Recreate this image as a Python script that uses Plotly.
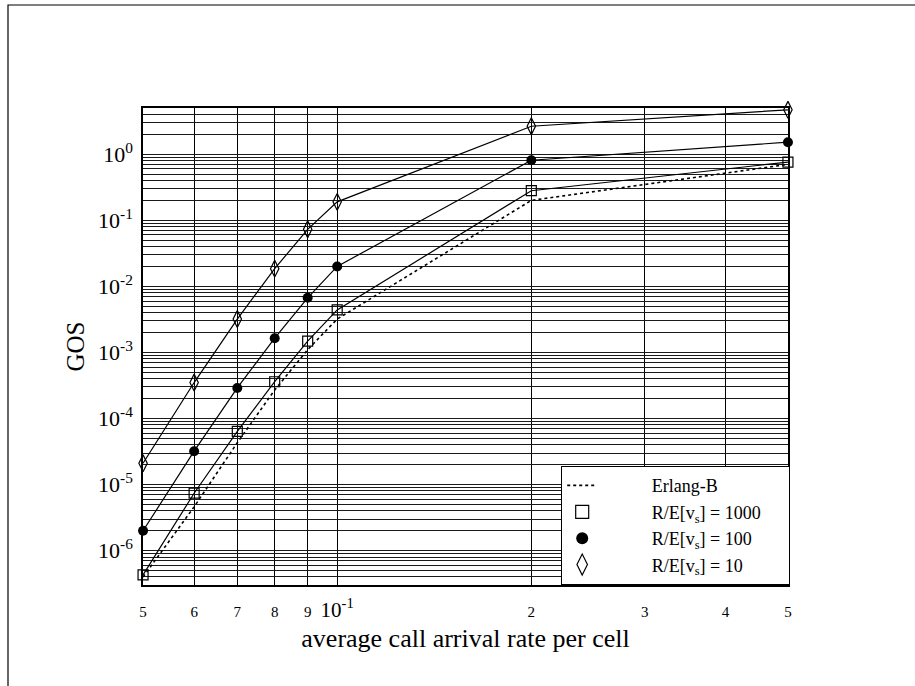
import math
import plotly.graph_objects as go

# ---- data ----
rate = [0.05, 0.06, 0.07, 0.08, 0.09, 0.1, 0.2, 0.5]
gos_erlang = [4.0e-7, 4.6e-6, 4.3e-5, 2.7e-4, 1.1e-3, 3.2e-3, 0.20, 0.70]
gos_r1000 = [4.3e-7, 7.4e-6, 6.4e-5, 3.6e-4, 1.48e-3, 4.4e-3, 0.28, 0.76]
gos_r100 = [2.0e-6, 3.2e-5, 2.9e-4, 1.64e-3, 6.7e-3, 0.020, 0.81, 1.52]
gos_r10 = [2.1e-5, 3.5e-4, 3.2e-3, 1.85e-2, 0.073, 0.19, 2.65, 4.7]

x_tickvals = [0.05, 0.06, 0.07, 0.08, 0.09, 0.1, 0.2, 0.3, 0.4, 0.5]
x_ticklabels = ["5", "6", "7", "8", "9", "10<sup>-1</sup>", "2", "3", "4", "5"]
y_exponents = [-7, -6, -5, -4, -3, -2, -1, 0]

FONT = "Liberation Serif, Times New Roman, serif"
SP = "\u00a0" * 11
TR = "\u00a0" * 5

x_ticktext = [t if t.startswith("10") else '<span style="font-size:15px">%s</span>' % t
              for t in x_ticklabels]

y_tickvals, y_ticktext = [], []
for e in y_exponents:
    for k in range(1, 10):
        y_tickvals.append(k * 10.0 ** e)
        y_ticktext.append("10<sup>%d</sup>" % e if k == 1 else "")

fig = go.Figure()
line = dict(color="black", width=1.2)

fig.add_trace(go.Scatter(x=rate, y=gos_erlang, mode="lines", name=SP + "Erlang-B",
                         line=dict(color="black", width=1.6, dash="dot"), cliponaxis=False))
fig.add_trace(go.Scatter(x=rate, y=gos_r1000, mode="lines+markers", showlegend=False, line=line,
                         cliponaxis=False,
                         marker=dict(symbol="square-open", size=10, color="black", line=dict(width=1.2))))
fig.add_trace(go.Scatter(x=rate, y=gos_r100, mode="lines+markers", showlegend=False, line=line,
                         cliponaxis=False,
                         marker=dict(symbol="circle", size=10, color="black")))
fig.add_trace(go.Scatter(x=rate, y=gos_r10, mode="lines+markers", showlegend=False, line=line,
                         cliponaxis=False,
                         marker=dict(symbol="diamond-tall-open", size=12, color="black", line=dict(width=1.2))))

# legend-only entries (markers only, as in the reference)
fig.add_trace(go.Scatter(x=[None], y=[None], mode="markers", name=SP + "R/E[v<sub>s</sub>] = 1000" + TR,
                         marker=dict(symbol="square-open", size=13, color="black", line=dict(width=1.2))))
fig.add_trace(go.Scatter(x=[None], y=[None], mode="markers", name=SP + "R/E[v<sub>s</sub>] = 100",
                         marker=dict(symbol="circle", size=12, color="black")))
fig.add_trace(go.Scatter(x=[None], y=[None], mode="markers", name=SP + "R/E[v<sub>s</sub>] = 10",
                         marker=dict(symbol="diamond-tall-open", size=15, color="black", line=dict(width=1.2))))

L, R, T, B = 143, 127, 108, 101
W, H = 915, 686
pw, ph = W - L - R, H - T - B

fig.update_layout(
    width=W, height=H,
    margin=dict(l=L, r=R, t=T, b=B),
    paper_bgcolor="white", plot_bgcolor="white",
    font=dict(family=FONT, color="black", size=18),
    showlegend=True,
    legend=dict(x=(561 - L) / pw, y=0, xanchor="left", yanchor="bottom",
                bgcolor="white", bordercolor="black", borderwidth=1.2,
                font=dict(family=FONT, size=18, color="black"),
                tracegroupgap=0, itemwidth=30),
    xaxis=dict(type="log", range=[math.log10(0.05) - 1e-4, math.log10(0.5) + 1e-4],
               tickmode="array", tickvals=x_tickvals, ticktext=x_ticktext,
               tickfont=dict(size=21), ticks="", ticklabelstandoff=5,
               showgrid=True, gridcolor="black", gridwidth=1,
               showline=True, linecolor="black", linewidth=1.5, mirror=True,
               title=dict(text="average call arrival rate per cell", font=dict(size=26), standoff=8)),
    yaxis=dict(type="log", range=[-6.52, 0.699],
               tickmode="array", tickvals=y_tickvals, ticktext=y_ticktext,
               tickfont=dict(size=22), ticks="", ticklabelstandoff=4,
               showgrid=True, gridcolor="#1a1a1a", gridwidth=1,
               showline=True, linecolor="black", linewidth=1.5, mirror=True,
               title=dict(text="GOS", font=dict(size=25), standoff=6)),
    shapes=[dict(type="rect", xref="paper", yref="paper",
                 x0=(8 - L) / pw, x1=(940 - L) / pw,
                 y0=-(H + 20 - (H - B)) / ph, y1=(H - B - 5) / ph,
                 line=dict(color="black", width=1.2), fillcolor="rgba(0,0,0,0)", layer="below")],
)

fig.write_html("out.html")
